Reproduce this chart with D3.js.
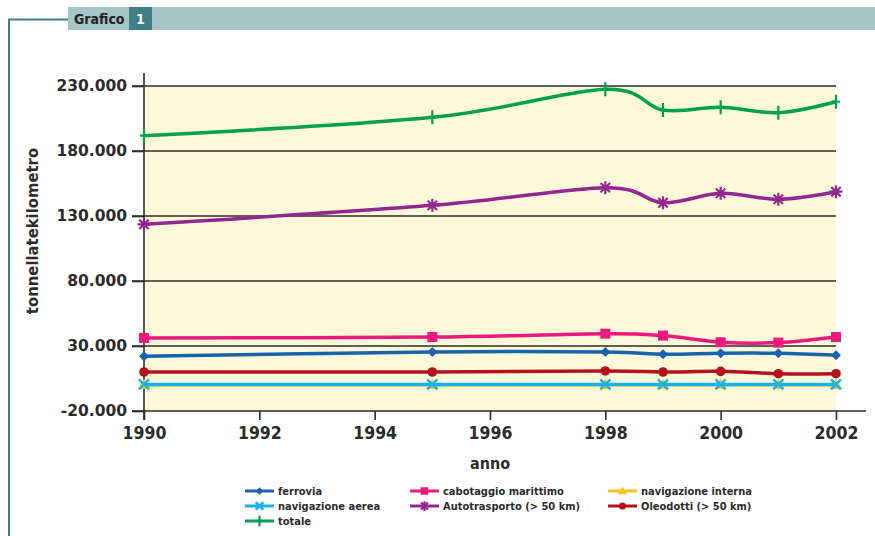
<!DOCTYPE html>
<html><head><meta charset="utf-8">
<script src="https://cdn.jsdelivr.net/npm/d3@7"></script>
<style>body{margin:0;background:#fff}svg{display:block}</style>
</head><body>
<svg id="c" width="875" height="536"></svg>
<script>
const years = [1990, 1995, 1998, 1999, 2000, 2001, 2002];
const seriesNames = ["ferrovia", "cabotaggio marittimo", "navigazione interna", "navigazione aerea", "Autotrasporto (> 50 km)", "Oleodotti (> 50 km)", "totale"];
const ferrovia = [22100, 25400, 25400, 23600, 24400, 24400, 22900];
const cabotaggio = [36200, 36900, 39500, 38000, 32900, 32600, 36900];
const navInterna = [200, 200, 200, 200, 200, 200, 200];
const navAerea = [400, 400, 400, 400, 400, 400, 400];
const autotrasporto = [123600, 138200, 151800, 140200, 147500, 142900, 148700];
const oleodotti = [10000, 10000, 10800, 10000, 10500, 8700, 8700];
const totale = [191800, 205900, 227500, 211500, 213600, 209500, 217900];
const yTicks = [-20000, 30000, 80000, 130000, 180000, 230000];
const xTicks = [1990, 1992, 1994, 1996, 1998, 2000, 2002];
const colors = ["#1763ad", "#ec197e", "#f8c21a", "#1ab3e8", "#93278f", "#b3121c", "#00a14b"];
const markers = ["diamond", "square", "triangle", "x", "asterisk", "circle", "plus"];
const allValues = [ferrovia, cabotaggio, navInterna, navAerea, autotrasporto, oleodotti, totale];

const svg = d3.select("#c");
const x = d3.scaleLinear().domain([1990, 2002]).range([144, 836]);
const y = d3.scaleLinear().domain([-20000, 230000]).range([411, 86]);
const loc = d3.formatLocale({decimal: ",", thousands: ".", grouping: [3], currency: ["", ""], minus: "-"});
const fmt = loc.format(",d");

// header / frame
const teal = "#3e7f85";
svg.append("rect").attr("x", 68).attr("y", 7).attr("width", 807).attr("height", 23).attr("fill", "#a6c5c7");
svg.append("rect").attr("x", 129).attr("y", 7).attr("width", 23).attr("height", 23).attr("fill", teal);
svg.append("text").attr("x", 74).attr("y", 24).attr("font-family", "DejaVu Sans Condensed, DejaVu Sans").attr("font-weight", "bold").attr("font-size", 14).attr("fill", "#222").text("Grafico");
svg.append("text").attr("x", 140.5).attr("y", 24).attr("text-anchor", "middle").attr("font-family", "DejaVu Sans Condensed, DejaVu Sans").attr("font-weight", "bold").attr("font-size", 14).attr("fill", "#fff").text("1");
svg.append("path").attr("d", "M68,19.5H9V536").attr("fill", "none").attr("stroke", teal).attr("stroke-width", 2);

// plot background
svg.append("rect").attr("x", x(1990)).attr("y", y(230000)).attr("width", x(2002) - x(1990)).attr("height", y(-20000) - y(230000)).attr("fill", "#fef9d8");

// gridlines
svg.append("g").selectAll("line").data(yTicks.filter(d => d !== -20000)).join("line")
  .attr("x1", 132).attr("x2", x(2002)).attr("y1", d => y(d)).attr("y2", d => y(d))
  .attr("stroke", "#2b2b2b").attr("stroke-width", 1.6);

// y axis
const yAxis = d3.axisLeft(y).tickValues(yTicks).tickFormat(fmt).tickSize(12).tickPadding(5);
const gy = svg.append("g").attr("transform", `translate(${x(1990)},0)`).call(yAxis);
gy.select(".domain").remove();
gy.selectAll(".tick line").attr("stroke", "#2b2b2b").attr("stroke-width", 1.6);
gy.selectAll(".tick text").attr("font-family", "DejaVu Sans").attr("font-weight", "bold").attr("font-size", 15.5).attr("fill", "#2b2b2b");
svg.append("line").attr("x1", x(1990)).attr("x2", x(1990)).attr("y1", 73).attr("y2", 420).attr("stroke", "#2b2b2b").attr("stroke-width", 1.6);

// x axis
const xAxis = d3.axisBottom(x).tickValues(xTicks).tickFormat(d3.format("d")).tickSize(9).tickPadding(7);
const gx = svg.append("g").attr("transform", `translate(0,${y(-20000)})`).call(xAxis);
gx.select(".domain").remove();
gx.selectAll(".tick line").attr("stroke", "#2b2b2b").attr("stroke-width", 1.6);
gx.selectAll(".tick text").attr("font-family", "DejaVu Sans Condensed, DejaVu Sans").attr("font-weight", "bold").attr("font-size", 17.5).attr("fill", "#2b2b2b");
svg.append("line").attr("x1", 132).attr("x2", 866).attr("y1", y(-20000)).attr("y2", y(-20000)).attr("stroke", "#2b2b2b").attr("stroke-width", 1.6);

// axis titles
svg.append("text").attr("x", x(1996)).attr("y", 469).attr("text-anchor", "middle").attr("font-family", "DejaVu Sans Condensed, DejaVu Sans").attr("font-weight", "bold").attr("font-size", 16).attr("fill", "#2b2b2b").text("anno");
svg.append("text").attr("transform", "translate(38,231) rotate(-90)").attr("text-anchor", "middle").attr("font-family", "DejaVu Sans Condensed, DejaVu Sans").attr("font-weight", "bold").attr("font-size", 16.5).attr("fill", "#2b2b2b").text("tonnellatekilometro");

function drawMarker(g, type, cx, cy, color, s) {
  s = s || 1;
  if (type === "diamond") {
    const r = 5 * s;
    g.append("path").attr("d", `M${cx},${cy - r}L${cx + r},${cy}L${cx},${cy + r}L${cx - r},${cy}Z`).attr("fill", color);
  } else if (type === "square") {
    const r = 5 * s;
    g.append("rect").attr("x", cx - r).attr("y", cy - r).attr("width", 2 * r).attr("height", 2 * r).attr("fill", color);
  } else if (type === "triangle") {
    const r = 6 * s;
    g.append("path").attr("d", `M${cx},${cy - r}L${cx + r},${cy + r * 0.7}L${cx - r},${cy + r * 0.7}Z`).attr("fill", color);
  } else if (type === "x") {
    const r = 5 * s;
    g.append("path").attr("d", `M${cx - r},${cy - r}L${cx + r},${cy + r}M${cx - r},${cy + r}L${cx + r},${cy - r}`).attr("stroke", color).attr("stroke-width", 2.5);
  } else if (type === "asterisk") {
    const r = 6.5 * s;
    const d = r * 0.72;
    g.append("path").attr("d", `M${cx},${cy - r}V${cy + r}M${cx - d},${cy - d}L${cx + d},${cy + d}M${cx - d},${cy + d}L${cx + d},${cy - d}M${cx - r},${cy}H${cx + r}`).attr("stroke", color).attr("stroke-width", 2.2);
  } else if (type === "circle") {
    g.append("circle").attr("cx", cx).attr("cy", cy).attr("r", 4.8 * s).attr("fill", color);
  } else if (type === "plus") {
    const r = 7 * s;
    g.append("path").attr("d", `M${cx},${cy - r}V${cy + r}M${cx - 4 * s},${cy}H${cx + 4 * s}`).attr("stroke", color).attr("stroke-width", 2.2);
  }
}

// series
const line = d3.line().x(d => x(d[0])).y(d => y(d[1])).curve(d3.curveCatmullRom.alpha(0));
const plot = svg.append("g");
allValues.forEach((vals, i) => {
  const pts = years.map((yr, j) => [yr, vals[j]]);
  plot.append("path").datum(pts).attr("d", line).attr("fill", "none").attr("stroke", colors[i]).attr("stroke-width", 3.5);
  const mg = plot.append("g");
  pts.forEach(p => drawMarker(mg, markers[i], x(p[0]), y(p[1]), colors[i]));
});

// legend
const legPos = [[245, 491], [410, 491], [608, 491], [245, 506], [410, 506], [608, 506], [245, 521]];
const lg = svg.append("g");
seriesNames.forEach((name, i) => {
  const [lx, ly] = legPos[i];
  lg.append("line").attr("x1", lx).attr("x2", lx + 29).attr("y1", ly).attr("y2", ly).attr("stroke", colors[i]).attr("stroke-width", 3);
  drawMarker(lg, markers[i], lx + 14.5, ly, colors[i], 0.75);
  lg.append("text").attr("x", lx + 33).attr("y", ly + 4).attr("font-family", "DejaVu Sans Condensed, DejaVu Sans").attr("font-weight", "bold").attr("font-size", 11).attr("fill", "#2b2b2b").text(name);
});
</script>
</body></html>
